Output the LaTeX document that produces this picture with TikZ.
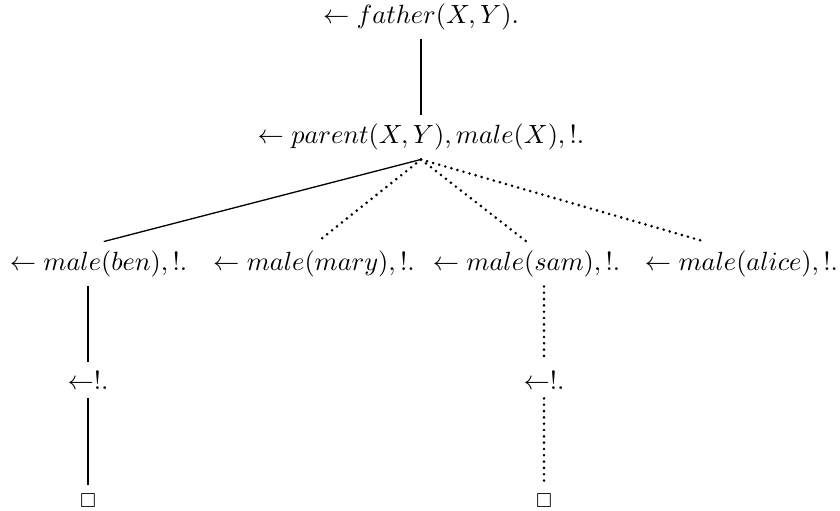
\documentclass[tikz,border=0pt]{standalone}
\usepackage{amssymb}

\begin{document}
\begin{tikzpicture}[x=0.38pt, y=-0.38pt,
      goal/.style={inner sep=3.33pt},
      edge/.style={line width=1pt},
      fail/.style={line width=1.1pt, line cap=round, dash pattern=on 0pt off 2.4pt}]
    \useasboundingbox (0,0) rectangle (840,510);
    \node[goal] (top)    at (421,17)    {$\leftarrow father(X,Y).$};
    \node[goal] (par)    at (421,137)   {$\leftarrow parent(X,Y), male(X), !.$};
    \node[goal] (ben)    at (98.5,264)  {$\leftarrow male(ben), !.$};
    \node[goal] (mary)   at (314,264)   {$\leftarrow male(mary), !.$};
    \node[goal] (sam)    at (526.5,264) {$\leftarrow male(sam), !.$};
    \node[goal] (alice)  at (741.5,264) {$\leftarrow male(alice), !.$};
    \node[goal] (cutben) at (88,380)    {$\leftarrow !.$};
    \node[goal] (cutsam) at (544,380)   {$\leftarrow !.$};
    \node[goal] (endben) at (88,501)    {$\scriptstyle\square$};
    \node[goal] (endsam) at (544,501)   {$\scriptstyle\square$};
    \draw[edge] (top) -- (par);
    \draw[edge, line width=0.5pt] (par.south) -- ([xshift=2pt]ben.north);
    \draw[fail] (par.south) -- ([xshift=1.5pt]mary.north);
    \draw[fail] (par.south) -- (sam.north);
    \draw[fail] (par.south) -- ([xshift=-14pt]alice.north);
    \draw[edge] (cutben.north |- ben.south) -- (cutben);
    \draw[edge] (cutben) -- (endben);
    \draw[fail] (cutsam.north |- sam.south) -- (cutsam);
    \draw[fail] (cutsam) -- (endsam);
  \end{tikzpicture}
\end{document}
